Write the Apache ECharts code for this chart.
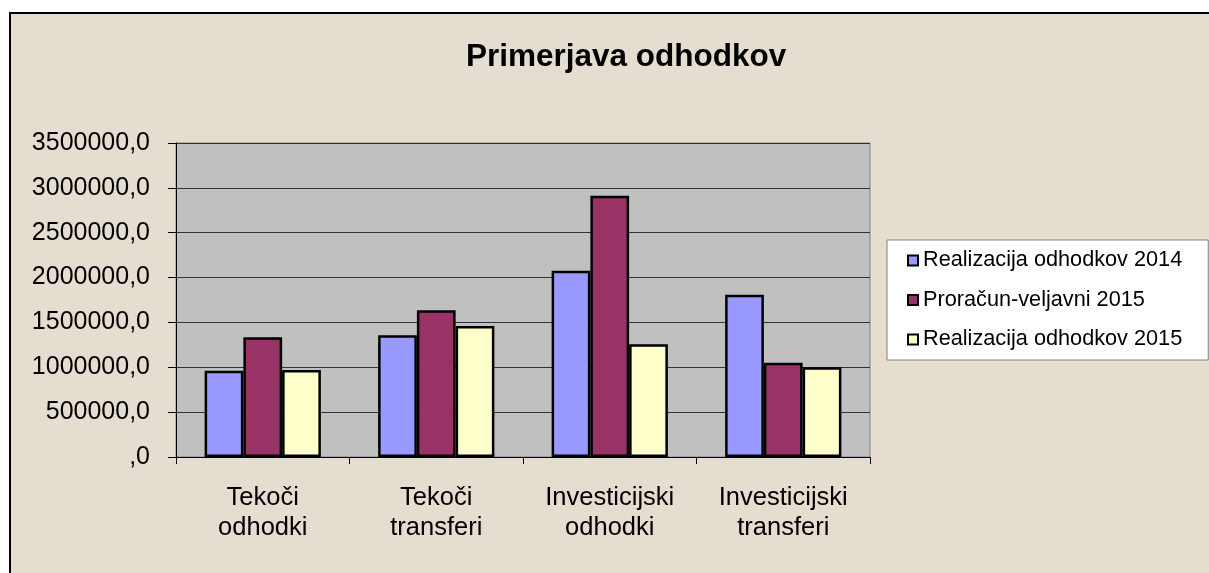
<!DOCTYPE html>
<html><head><meta charset="utf-8">
<script src="https://cdn.jsdelivr.net/npm/echarts@6/dist/echarts.min.js"></script>
<style>html,body{margin:0;padding:0;background:#fff}#c{width:1209px;height:573px}</style>
</head><body><div id="c"></div>
<script>
const categories = ['Tekoči\nodhodki', 'Tekoči\ntransferi', 'Investicijski\nodhodki', 'Investicijski\ntransferi'];
const seriesNames = ['Realizacija odhodkov 2014', 'Proračun-veljavni 2015', 'Realizacija odhodkov 2015'];
const real2014 = [962000, 1356000, 2077000, 1809000];
const proracun2015 = [1334000, 1635000, 2913000, 1051000];
const real2015 = [970000, 1460000, 1256000, 1000000];
const yTicks = [0, 500000, 1000000, 1500000, 2000000, 2500000, 3000000, 3500000];

const colors = ['#9999FF', '#993366', '#FFFFCC'];
const font = '"Liberation Sans", Arial, sans-serif';
const chart = echarts.init(document.getElementById('c'));
const mk = (name, data, i) => ({
  name, type: 'bar', data, barGap: '0%', barCategoryGap: '33%',
  itemStyle: { color: colors[i], borderColor: '#000', borderWidth: 2.5 }
});
chart.setOption({
  backgroundColor: '#ffffff',
  animation: false,
  graphic: [{
    type: 'rect', z: -10, silent: true,
    shape: { x: 10, y: 13, width: 1300, height: 700 },
    style: { fill: '#e5ddd0', stroke: '#000', lineWidth: 2 }
  }],
  title: {
    text: 'Primerjava odhodkov', left: 466, top: 41, padding: 0,
    textStyle: { fontFamily: font, fontSize: 31.5, fontWeight: 'bold', color: '#000' }
  },
  legend: {
    orient: 'vertical', left: 887, top: 240,
    padding: [8.5, 26, 8.5, 20],
    backgroundColor: '#ffffff', borderColor: '#808080', borderWidth: 1,
    itemWidth: 10, itemHeight: 10, itemGap: 15.5, icon: 'rect',
    itemStyle: { borderColor: '#000', borderWidth: 2 },
    textStyle: { fontFamily: font, fontSize: 21.7, color: '#000', lineHeight: 24 },
    data: seriesNames
  },
  grid: {
    left: 176, right: 339, top: 143, bottom: 116, show: true,
    backgroundColor: '#c0c0c0', borderColor: '#808080', borderWidth: 1
  },
  xAxis: {
    type: 'category', data: categories,
    axisLine: { lineStyle: { color: '#000', width: 1 } },
    axisTick: { show: true, length: 7, lineStyle: { color: '#000' } },
    axisLabel: { fontFamily: font, fontSize: 25.5, color: '#000', margin: 26, lineHeight: 30 }
  },
  yAxis: {
    type: 'value', min: 0, max: 3500000, interval: 500000,
    axisLine: { show: true, lineStyle: { color: '#000', width: 1 } },
    axisTick: { show: true, length: 8, lineStyle: { color: '#000' } },
    splitLine: { lineStyle: { color: '#333', width: 1 } },
    axisLabel: {
      fontFamily: font, fontSize: 25, color: '#000', margin: 26,
      customValues: yTicks,
      formatter: v => (v === 0 ? '' : String(v)) + ',0'
    }
  },
  series: [mk(seriesNames[0], real2014, 0), mk(seriesNames[1], proracun2015, 1), mk(seriesNames[2], real2015, 2)]
});
</script></body></html>
